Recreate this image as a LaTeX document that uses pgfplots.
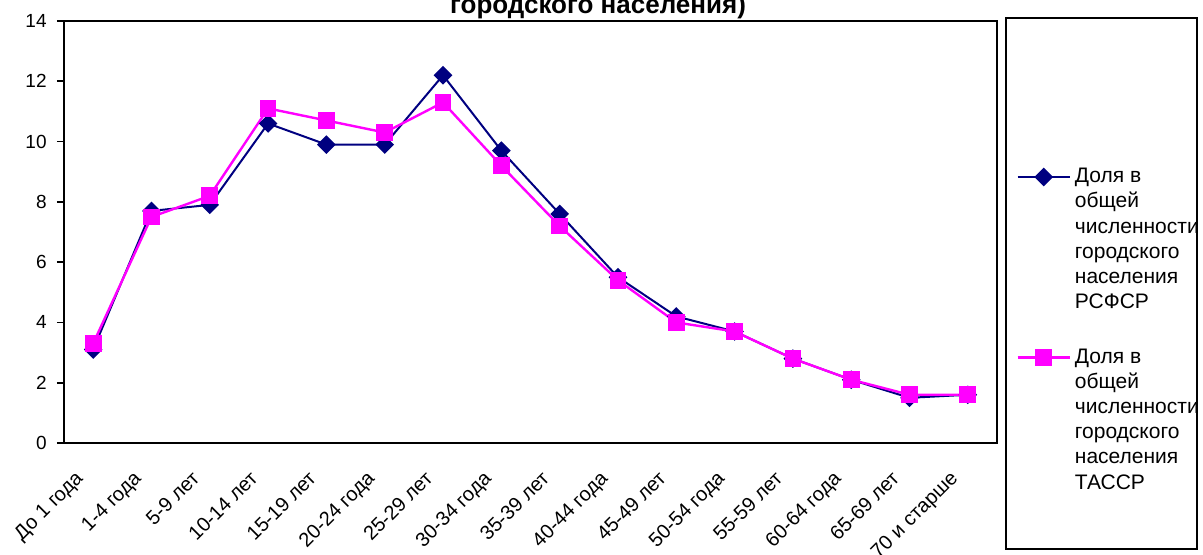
\documentclass[border=0pt]{standalone}
\usepackage{fontspec}
\setmainfont{Liberation Sans}
\usepackage{pgfplots}
\pgfplotsset{compat=1.18}
\definecolor{rsfsr}{RGB}{0,0,128}
\definecolor{tassr}{RGB}{255,0,255}

\newcommand{\legtext}[1]{\raisebox{0pt}[\height][0pt]{\parbox[t]{30mm}{\fontsize{10.5}{12.6}\selectfont #1}}}

\begin{document}
\begin{tikzpicture}
\begin{axis}[
  at={(32pt,55.5pt)}, anchor=south west,
  scale only axis, width=466.5pt, height=211pt,
  xmin=-0.5, xmax=15.5, ymin=0, ymax=14,
  xtick={0,...,15},
  xticklabels={До 1 года, 1-4 года, 5-9 лет, 10-14 лет, 15-19 лет, 20-24 года,
    25-29 лет, 30-34 года, 35-39 лет, 40-44 года, 45-49 лет, 50-54 года,
    55-59 лет, 60-64 года, 65-69 лет, 70 и старше},
  ytick={0,2,...,14},
  axis line style={line width=1pt},
  tick pos=left, tick align=outside,
  major tick length=3.5pt,
  x tick style={draw=none},
  y tick style={black, line width=0.8pt},
  xticklabel style={rotate=45, anchor=north east, inner sep=0pt,
    xshift=-13.5pt, yshift=0pt, font=\fontsize{10}{12}\selectfont},
  yticklabel style={anchor=east, inner sep=0pt, xshift=-5pt,
    font=\fontsize{9.5}{11}\selectfont},
  /pgf/number format/assume math mode=true,
  legend style={draw=none, fill=none, at={(1.0205,0.6615)}, anchor=north west,
    inner sep=0pt, row sep=77.5pt, column sep=0pt},
  legend cell align=left,
  legend image code/.code={\draw[mark repeat=2, mark phase=2]
    plot coordinates {(0pt,0pt) (13pt,0pt) (26pt,0pt)};},
]
\addplot[rsfsr, line width=1pt, mark=square*, mark size=2.8pt,
  mark options={rotate=45, solid, fill=rsfsr}]
  coordinates {(0,3.1) (1,7.7) (2,7.9) (3,10.6) (4,9.9) (5,9.9) (6,12.2) (7,9.7)
    (8,7.6) (9,5.5) (10,4.2) (11,3.7) (12,2.8) (13,2.1) (14,1.5) (15,1.6)};
\addlegendentry{\legtext{Доля в\\общей\\численности\\городского\\населения\\РСФСР}}
\addplot[tassr, line width=1.2pt, mark=square*, mark size=3.6pt,
  mark options={solid, fill=tassr}]
  coordinates {(0,3.3) (1,7.5) (2,8.2) (3,11.1) (4,10.7) (5,10.3) (6,11.3) (7,9.2)
    (8,7.2) (9,5.4) (10,4.0) (11,3.7) (12,2.8) (13,2.1) (14,1.6) (15,1.6)};
\addlegendentry{\legtext{Доля в\\общей\\численности\\городского\\населения\\ТАССР}}
\end{axis}
\draw[line width=0.8pt] (503pt,2.5pt) rectangle (598.5pt,268pt);
\node[font=\bfseries\fontsize{13}{15}\selectfont, anchor=base] at (299pt,270.5pt)
  {городского населения)};
\pgfresetboundingbox
\useasboundingbox (0pt,0pt) rectangle (601.5pt,277pt);
\end{tikzpicture}
\end{document}
